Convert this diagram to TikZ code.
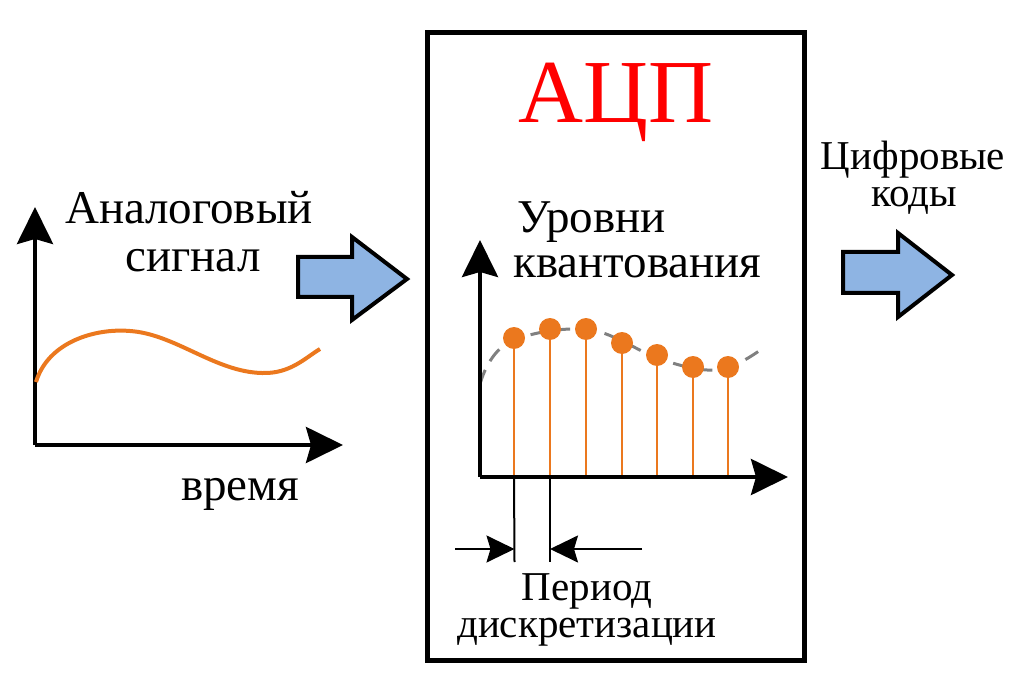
\documentclass[tikz,border=0pt]{standalone}
\usepackage{fontspec}
\newfontfamily\tnr{Liberation Serif}
\usetikzlibrary{arrows.meta}
\definecolor{sigorange}{RGB}{235,120,30}
\definecolor{arrowblue}{RGB}{142,180,227}
\definecolor{curvegray}{RGB}{128,128,128}
\definecolor{adcred}{RGB}{255,0,0}
\tikzset{
  axis/.style={line width=4pt, -{Stealth[length=37pt,width=36pt,inset=5pt]}},
  blockarrow/.style={draw=black, fill=arrowblue, line width=4pt, line join=miter},
  txt/.style={inner sep=0pt, anchor=base, font=\tnr\fontsize{20}{22}\selectfont},
  stem/.style={draw=sigorange, line width=2pt},
  dot/.style={circle, fill=sigorange, inner sep=0pt, minimum size=22pt},
  tick/.style={draw=black, line width=2pt},
  period/.style={line width=2pt, -{Stealth[length=28pt,width=27pt,inset=4pt]}}
}
\newcommand{\bigtxt}[1]{\scalebox{2.35}{#1}}
\newcommand{\midtxt}[1]{\scalebox{2.05}{#1}}
\begin{document}
\begin{tikzpicture}[x=1pt,y=-1pt]
\useasboundingbox (0,0) rectangle (1019,700);
% ADC box
\node[draw=black, line width=5pt, minimum width=377pt, minimum height=627pt, inner sep=0pt] (adc) at (616,346.5) {};
\node[txt, text=adcred] (title) at (616,123) {\scalebox{4.5}{АЦП}};
% left axes
\coordinate (lo) at (35,445);
\coordinate (ly) at (35,207);
\coordinate (lx) at (343,445);
\draw[axis] (lo) -- (ly);
\draw[axis] (lo) -- (lx);
\draw[sigorange, line width=4pt] (36,382) .. controls (48,342) and (95,328) .. (130,331) .. controls (175,334) and (215,372) .. (262,373) .. controls (290,374) and (305,358) .. (320,349);
\node[txt] (an1) at (189,224) {\bigtxt{Аналоговый}};
\node[txt] (an2) at (193,272) {\bigtxt{сигнал}};
\node[txt] (time) at (240,500) {\bigtxt{время}};
% block arrow 1
\draw[blockarrow] (298,257) -- (352,257) -- (352,237) -- (407,279) -- (352,320) -- (352,297) -- (298,297) -- cycle;
% right axes
\coordinate (ro) at (480,477);
\coordinate (ry) at (480,240);
\coordinate (rx) at (788,477);
\draw[curvegray, line width=3pt, dash pattern=on 15pt off 10pt] (480,384) .. controls (487,360) and (500,345) .. (514,340) .. controls (535,332) and (560,328) .. (586,329) .. controls (610,331) and (640,352) .. (657,358) .. controls (680,366) and (700,371) .. (715,370) .. controls (735,368) and (750,357) .. (765,347);
\foreach \i/\x/\y in {1/514/338, 2/550/329, 3/586/329, 4/622/343, 5/657/355, 6/693/367, 7/728/367} {
  \coordinate (b\i) at (\x,477);
  \draw[stem] (\x,\y) -- (b\i);
  \node[dot] (d\i) at (\x,\y) {};
}
\draw[axis] (ro) -- (ry);
\draw[axis] (ro) -- (rx);
\node[txt, anchor=base west] (lev1) at (517,233) {\bigtxt{Уровни}};
\node[txt, anchor=base west] (lev2) at (513,278) {\bigtxt{квантования}};
% period marks
\coordinate (t1) at (514.5,562);
\coordinate (t2) at (550,562);
\draw[tick] (b1) -- (t1);
\draw[tick] (b2) -- (t2);
\coordinate (pl) at (455,549);
\coordinate (pr) at (642,549);
\draw[period] (pl) -- (t1 |- pl);
\draw[period] (pr) -- (t2 |- pr);
\node[txt] (per1) at (587,600) {\midtxt{Период}};
\node[txt] (per2) at (587,637) {\midtxt{дискретизации}};
% output
\node[txt] (out1) at (913,170) {\midtxt{Цифровые}};
\node[txt] (out2) at (914,207) {\midtxt{коды}};
\draw[blockarrow] (843,252) -- (898,252) -- (898,233) -- (952,275) -- (898,317) -- (898,293) -- (843,293) -- cycle;
\end{tikzpicture}
\end{document}
